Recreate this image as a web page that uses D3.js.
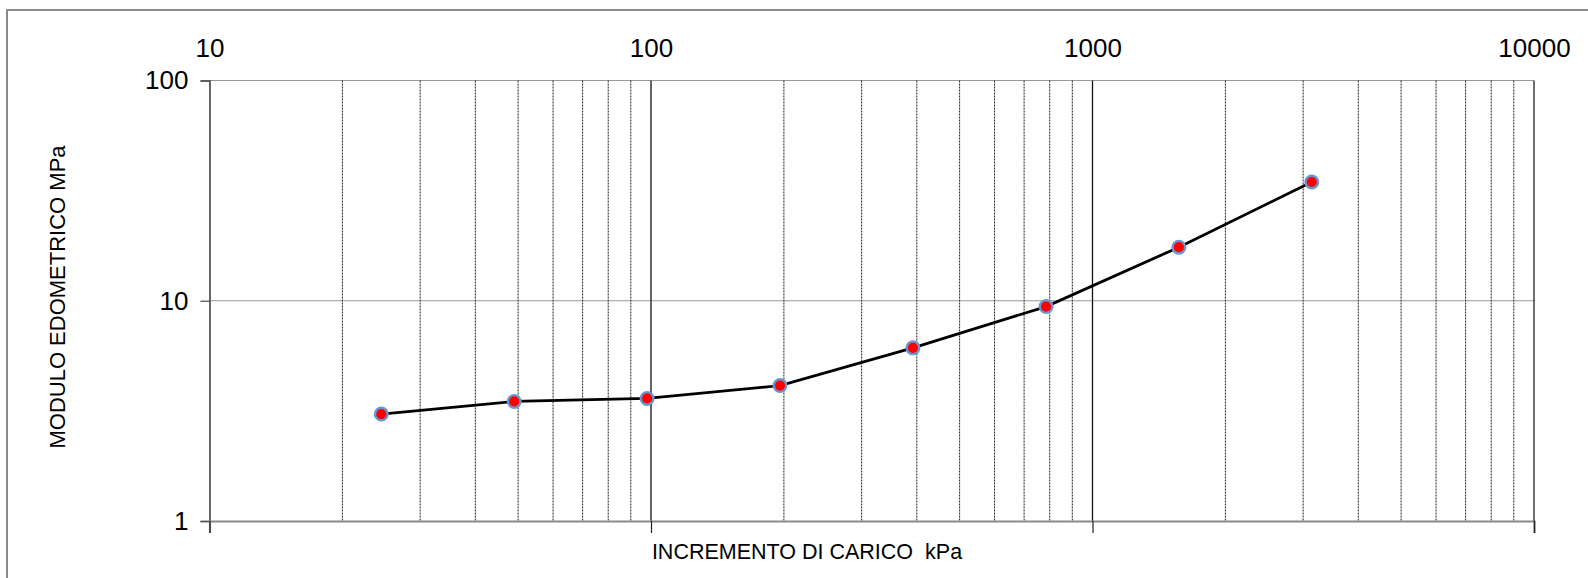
<!DOCTYPE html>
<html>
<head>
<meta charset="utf-8">
<script src="https://cdn.jsdelivr.net/npm/d3@7"></script>
<style>
  html, body { margin: 0; padding: 0; background: #fff; }
  svg { display: block; font-family: "Liberation Sans", Arial, sans-serif; }
</style>
</head>
<body>
<svg id="chart" width="1588" height="578"></svg>
<script>
// ---- data ----
const loadKPa = [24.5, 49, 98, 196, 392, 785, 1569, 3138];
const moduloMPa = [3.06, 3.49, 3.60, 4.12, 6.11, 9.41, 17.5, 34.6];
const xTickLabels = [10, 100, 1000, 10000];
const yTickLabels = [1, 10, 100];
const xTitle = "INCREMENTO DI CARICO  kPa";
const yTitle = "MODULO EDOMETRICO MPa";

(function () {
const svg = d3.select("#chart");
const W = 1588, H = 578;

// outer frame (extends beyond the visible area right/bottom)
svg.append("rect")
  .attr("x", 7).attr("y", 10)
  .attr("width", W + 20).attr("height", H + 20)
  .attr("fill", "none").attr("stroke", "#8a8a8a").attr("stroke-width", 2);

const pL = 209.5, pR = 1534, pT = 80.5, pB = 521;
const x = d3.scaleLog().domain([10, 10000]).range([pL, pR]);
const y = d3.scaleLog().domain([1, 100]).range([pB, pT]);

// minor vertical gridlines
const minorX = [];
[10, 100, 1000].forEach(d => { for (let k = 2; k <= 9; k++) minorX.push(d * k); });
svg.append("g").selectAll("line").data(minorX).join("line")
  .attr("x1", d => x(d)).attr("x2", d => x(d))
  .attr("y1", pT).attr("y2", pB)
  .attr("stroke", "#222").attr("stroke-width", 1)
  .attr("stroke-dasharray", "2,1");

// major vertical lines
svg.append("g").selectAll("line").data([100, 1000]).join("line")
  .attr("x1", d => x(d)).attr("x2", d => x(d))
  .attr("y1", pT).attr("y2", pB)
  .attr("stroke", "#111").attr("stroke-width", 1.3);

// horizontal gridlines
svg.append("g").selectAll("line").data([10, 100]).join("line")
  .attr("x1", pL).attr("x2", pR)
  .attr("y1", d => y(d)).attr("y2", d => y(d))
  .attr("stroke", "#333").attr("stroke-width", 1.2)
  .attr("stroke-dasharray", "1,1");

// left axis
const yAxis = d3.axisLeft(y).tickValues(yTickLabels).tickSize(9).tickPadding(12)
  .tickFormat(d3.format("d"));
const gy = svg.append("g").attr("transform", `translate(${pL},0)`).call(yAxis);
gy.select(".domain").attr("stroke", "#444").attr("stroke-width", 1.6);
gy.selectAll(".tick line").attr("stroke", "#555").attr("stroke-width", 1.3);
gy.selectAll(".tick text").attr("font-size", 26).attr("fill", "#000")
  .attr("font-family", "Liberation Sans, Arial, sans-serif");

// bottom axis line with ticks below at decades
const xAxisB = d3.axisBottom(x).tickValues(xTickLabels).tickSize(12).tickFormat("");
const gxb = svg.append("g").attr("transform", `translate(0,${pB})`).call(xAxisB);
gxb.select(".domain").attr("stroke", "#8a8a8a").attr("stroke-width", 2.2);
gxb.selectAll(".tick line").attr("stroke", "#222").attr("stroke-width", 1.2);

// right border line
svg.append("line")
  .attr("x1", x(10000)).attr("x2", x(10000)).attr("y1", pT).attr("y2", pB)
  .attr("stroke", "#222").attr("stroke-width", 1.3);

// top tick labels
const xAxisT = d3.axisTop(x).tickValues(xTickLabels).tickSize(0).tickPadding(0)
  .tickFormat(d3.format("d"));
const gxt = svg.append("g").attr("transform", `translate(0,57)`).call(xAxisT);
gxt.select(".domain").remove();
gxt.selectAll(".tick text").attr("font-size", 26).attr("fill", "#000")
  .attr("dy", 0)
  .attr("font-family", "Liberation Sans, Arial, sans-serif");

// line
const line = d3.line().x((d, i) => x(loadKPa[i])).y(d => y(d));
svg.append("path").datum(moduloMPa)
  .attr("d", line).attr("fill", "none")
  .attr("stroke", "#000").attr("stroke-width", 2.8);

// markers
svg.append("g").selectAll("circle").data(moduloMPa).join("circle")
  .attr("cx", (d, i) => x(loadKPa[i])).attr("cy", d => y(d))
  .attr("r", 6.3).attr("fill", "#ff0000")
  .attr("stroke", "#6a96cf").attr("stroke-width", 2.4);

// titles
svg.append("text")
  .attr("x", 807).attr("y", 559)
  .attr("text-anchor", "middle").attr("font-size", 21.5).attr("fill", "#000")
  .style("white-space", "pre")
  .text(xTitle);

svg.append("text")
  .attr("transform", `translate(65,297) rotate(-90)`)
  .attr("text-anchor", "middle").attr("font-size", 22).attr("fill", "#000")
  .text(yTitle);
})();
</script>
</body>
</html>
